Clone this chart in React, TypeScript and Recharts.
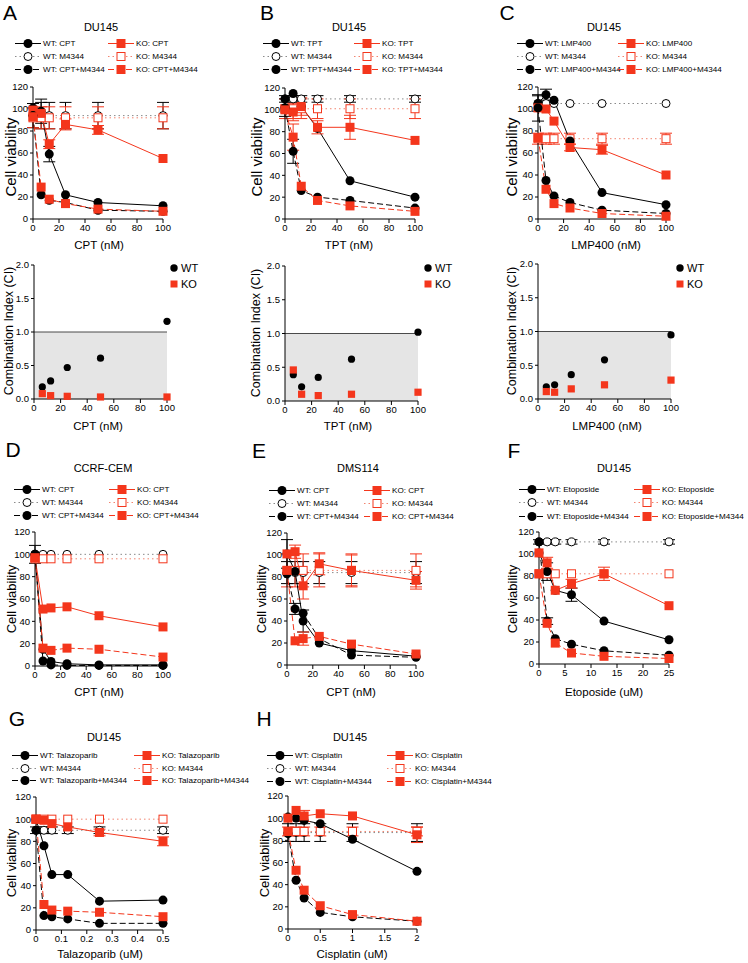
import React from 'react';
import {
  ComposedChart,
  Line,
  ErrorBar,
  XAxis,
  YAxis,
  ScatterChart,
  Scatter,
  ReferenceArea,
  ReferenceLine
} from 'recharts';

const FONT = '"Liberation Sans", Arial, Helvetica, sans-serif';
const BLACK = '#000000';
const RED = '#F4361C';
const GREY_DOTS = '#8a8a8a';
const PINK_DOTS = '#F2846F';
const CI_SHADE = '#e5e5e5';

// doses and ticks
const nmDoses = [0, 6.25, 12.5, 25, 50, 100];
const etoDoses = [0, 1.5625, 3.125, 6.25, 12.5, 25];
const talaDoses = [0, 0.03125, 0.0625, 0.125, 0.25, 0.5];
const cisDoses = [0, 0.125, 0.25, 0.5, 1, 2];
const ciDoses = [6.25, 12.5, 25, 50, 100];

const nmTicks = [0, 20, 40, 60, 80, 100];
const etoTicks = [0, 5, 10, 15, 20, 25];
const talaTicks = [0, 0.1, 0.2, 0.3, 0.4, 0.5];
const cisTicks = [0, 0.5, 1, 1.5, 2];
const viabilityTicks = [0, 20, 40, 60, 80, 100, 120];
const ciTicks = [0, 0.5, 1, 1.5, 2];

// A: DU145, CPT
const aWtDrug = [101, 98, 59, 22, 15, 12];
const aWtM = [94, 94, 94, 94, 94, 94];
const aWtCombo = [94, 22, 17, 15, 8, 7];
const aKoDrug = [99, 96, 68, 86, 81, 55];
const aKoM = [92, 92, 92, 92, 92, 92];
const aKoCombo = [93, 29, 18, 14, 9, 7];
const aWtDrugErr = [0, 11, 7, 0, 0, 0];
const aWtMErr = [11, 12, 12, 12, 12, 12];
const aKoDrugErr = [0, 0, 4, 5, 4, 0];
const aKoMErr = [9, 10, 10, 10, 10, 10];

// B: DU145, TPT
const bWtDrug = [110, 115, 103, 83, 35, 20];
const bWtM = [110, 110, 110, 110, 110, 110];
const bWtCombo = [102, 62, 26, 20, 17, 10];
const bKoDrug = [101, 98, 103, 84, 84, 72];
const bKoM = [101, 101, 101, 101, 101, 101];
const bKoCombo = [100, 75, 30, 17, 12, 7];
const bWtMErr = [3, 3, 3, 3, 3, 3];
const bWtComboErr = [8, 11, 0, 0, 0, 0];
const bKoDrugErr = [0, 8, 8, 6, 11, 0];
const bKoMErr = [9, 9, 9, 9, 9, 9];
const bKoComboErr = [0, 12, 0, 0, 0, 0];

// C: DU145, LMP400
const cWtDrug = [105, 113, 108, 71, 24, 13];
const cWtM = [105, 105, 105, 105, 105, 105];
const cWtCombo = [101, 35, 21, 15, 8, 5];
const cKoDrug = [101, 100, 89, 65, 63, 40];
const cKoM = [73, 73, 73, 73, 73, 73];
const cKoCombo = [74, 27, 14, 10, 5, 2.5];
const cWtDrugErr = [7, 5, 0, 0, 0, 0];
const cWtComboErr = [12, 0, 0, 0, 0, 0];
const cKoDrugErr = [0, 0, 0, 3, 4, 0];
const cKoMErr = [5, 5, 5, 5, 5, 5];

// D: CCRF-CEM, CPT
const dWtDrug = [100, 15, 4, 2, 1, 1];
const dWtM = [100, 100, 100, 100, 100, 100];
const dWtCombo = [100, 4.5, 1, 0.5, 0.5, 0.5];
const dKoDrug = [97, 51, 52, 53, 45, 35];
const dKoM = [96, 96, 96, 96, 96, 96];
const dKoCombo = [97, 16, 14, 16, 15, 8];
const dWtDrugErr = [8, 0, 0, 0, 0, 0];

// E: DMS114, CPT
const eWtDrug = [101, 85, 40, 20, 13, 8];
const eWtM = [84, 84, 84, 84, 84, 84];
const eWtCombo = [83, 51, 47, 24, 9, 7];
const eKoDrug = [101, 103, 72, 92, 86, 77];
const eKoM = [86, 86, 86, 86, 86, 86];
const eKoCombo = [86, 22, 24, 26, 19, 10];
const eWtDrugErr = [13, 0, 10, 0, 0, 0];
const eWtMErr = [10, 10, 10, 10, 10, 10];
const eWtComboErr = [0, 5, 0, 0, 0, 0];
const eKoDrugErr = [0, 6, 12, 10, 14, 8];
const eKoMErr = [15, 15, 15, 15, 15, 15];
const eKoComboErr = [0, 0, 6, 0, 0, 0];

// F: DU145, Etoposide
const fWtDrug = [101, 84, 67, 63, 39, 22];
const fWtM = [111, 111, 111, 111, 111, 111];
const fWtCombo = [111, 39, 23, 18, 12, 8];
const fKoDrug = [101, 92, 67, 73, 82, 53];
const fKoM = [82, 82, 82, 82, 82, 82];
const fKoCombo = [82, 37, 19, 10, 7, 5];
const fWtDrugErr = [0, 8, 0, 6, 0, 0];
const fWtMErr = [2, 2, 2, 2, 2, 2];
const fWtComboErr = [0, 3, 0, 0, 0, 0];
const fKoDrugErr = [0, 5, 0, 4, 6, 0];

// G: DU145, Talazoparib
const gWtDrug = [100, 76, 50, 50, 26, 27];
const gWtM = [90, 90, 90, 90, 90, 90];
const gWtCombo = [90, 13, 12, 10, 6, 6];
const gKoDrug = [100, 99, 96, 93, 88, 80];
const gKoM = [100, 100, 100, 100, 100, 100];
const gKoCombo = [100, 23, 18, 17, 16, 12];
const gWtMErr = [3, 3, 3, 3, 3, 3];
const gKoDrugErr = [0, 0, 0, 0, 3, 4];

// H: DU145, Cisplatin
const hWtDrug = [101, 100, 98, 95, 81, 52];
const hWtM = [87, 87, 87, 87, 87, 87];
const hWtCombo = [86, 44, 28, 15, 11, 7];
const hKoDrug = [100, 107, 102, 104, 102, 85];
const hKoM = [88, 88, 88, 88, 88, 88];
const hKoCombo = [88, 53, 35, 21, 13, 7];
const hWtMErr = [8, 8, 8, 8, 8, 8];
const hKoDrugErr = [0, 0, 5, 0, 0, 7];
const hKoMErr = [4, 4, 4, 4, 4, 4];

// combination index
const ciAWt = [0.18, 0.27, 0.47, 0.61, 1.16];
const ciAKo = [0.08, 0.05, 0.04, 0.03, 0.03];
const ciBWt = [0.39, 0.21, 0.35, 0.62, 1.02];
const ciBKo = [0.46, 0.1, 0.08, 0.1, 0.13];
const ciCWt = [0.18, 0.21, 0.36, 0.58, 0.95];
const ciCKo = [0.11, 0.1, 0.15, 0.21, 0.28];

type Kind = 'circle' | 'openCircle' | 'square' | 'openSquare';

const SERIES: { key: string; kind: Kind; color: string; stroke: string; dash?: string }[] = [
  { key: 'wtM', kind: 'openCircle', color: BLACK, stroke: GREY_DOTS, dash: '1.5 3' },
  { key: 'koM', kind: 'openSquare', color: RED, stroke: PINK_DOTS, dash: '1.5 3' },
  { key: 'wtDrug', kind: 'circle', color: BLACK, stroke: BLACK },
  { key: 'koDrug', kind: 'square', color: RED, stroke: RED },
  { key: 'wtCombo', kind: 'circle', color: BLACK, stroke: BLACK, dash: '6 3' },
  { key: 'koCombo', kind: 'square', color: RED, stroke: RED, dash: '6 3' }
];
const seriesByKey = (k: string) => SERIES.find((s) => s.key === k)!;

function Marker({ kind, cx, cy, color, size = 9 }: { kind: Kind; cx: number; cy: number; color: string; size?: number }) {
  const h = size / 2;
  if (kind === 'circle') return <circle cx={cx} cy={cy} r={h} fill={color} />;
  if (kind === 'openCircle') return <circle cx={cx} cy={cy} r={h - 0.5} fill="#fff" stroke={color} strokeWidth={1} />;
  if (kind === 'square') return <rect x={cx - h} y={cy - h} width={size} height={size} fill={color} />;
  return <rect x={cx - h + 0.5} y={cy - h + 0.5} width={size - 1} height={size - 1} fill="#fff" stroke={color} strokeWidth={1} />;
}

interface Panel {
  letter: string;
  letterPos: [number, number];
  title: string;
  titlePos: [number, number];
  drug: string;
  xLabel: string;
  xLabelPos: [number, number];
  yLabelPos: [number, number];
  yLabelSize: number;
  doses: number[];
  xMax: number;
  xTicks: number[];
  plot: { x: number; y: number; w: number; h: number };
  legendLeft: number;
  legendRight: number;
  legendRows: number[];
  values: Record<string, number[]>;
  errors: Record<string, number[]>;
}

const PANELS: Panel[] = [
  {
    letter: 'A', letterPos: [10, 12], title: 'DU145', titlePos: [101, 27], drug: 'CPT',
    xLabel: 'CPT (nM)', xLabelPos: [99, 246], yLabelPos: [10, 157], yLabelSize: 15,
    doses: nmDoses, xMax: 100, xTicks: nmTicks, plot: { x: 33, y: 87, w: 130, h: 132 },
    legendLeft: 43, legendRight: 136, legendRows: [43, 56, 69],
    values: { wtDrug: aWtDrug, wtM: aWtM, wtCombo: aWtCombo, koDrug: aKoDrug, koM: aKoM, koCombo: aKoCombo },
    errors: { wtDrug: aWtDrugErr, wtM: aWtMErr, koDrug: aKoDrugErr, koM: aKoMErr }
  },
  {
    letter: 'B', letterPos: [267, 12], title: 'DU145', titlePos: [349, 27], drug: 'TPT',
    xLabel: 'TPT (nM)', xLabelPos: [349, 246], yLabelPos: [256, 157], yLabelSize: 15,
    doses: nmDoses, xMax: 100, xTicks: nmTicks, plot: { x: 285, y: 88, w: 130, h: 131 },
    legendLeft: 291, legendRight: 382, legendRows: [43, 56, 69],
    values: { wtDrug: bWtDrug, wtM: bWtM, wtCombo: bWtCombo, koDrug: bKoDrug, koM: bKoM, koCombo: bKoCombo },
    errors: { wtM: bWtMErr, wtCombo: bWtComboErr, koDrug: bKoDrugErr, koM: bKoMErr, koCombo: bKoComboErr }
  },
  {
    letter: 'C', letterPos: [507, 12], title: 'DU145', titlePos: [604, 27], drug: 'LMP400',
    xLabel: 'LMP400 (nM)', xLabelPos: [606, 246], yLabelPos: [511, 157], yLabelSize: 15,
    doses: nmDoses, xMax: 100, xTicks: nmTicks, plot: { x: 538, y: 87, w: 128, h: 132 },
    legendLeft: 545, legendRight: 646, legendRows: [43, 56, 69],
    values: { wtDrug: cWtDrug, wtM: cWtM, wtCombo: cWtCombo, koDrug: cKoDrug, koM: cKoM, koCombo: cKoCombo },
    errors: { wtDrug: cWtDrugErr, wtCombo: cWtComboErr, koDrug: cKoDrugErr, koM: cKoMErr }
  },
  {
    letter: 'D', letterPos: [13, 449], title: 'CCRF-CEM', titlePos: [103, 468], drug: 'CPT',
    xLabel: 'CPT (nM)', xLabelPos: [99, 693], yLabelPos: [11, 599], yLabelSize: 13,
    doses: nmDoses, xMax: 100, xTicks: nmTicks, plot: { x: 35, y: 532, w: 128, h: 134 },
    legendLeft: 42, legendRight: 137, legendRows: [489, 502, 515],
    values: { wtDrug: dWtDrug, wtM: dWtM, wtCombo: dWtCombo, koDrug: dKoDrug, koM: dKoM, koCombo: dKoCombo },
    errors: { wtDrug: dWtDrugErr }
  },
  {
    letter: 'E', letterPos: [259, 450], title: 'DMS114', titlePos: [358, 468], drug: 'CPT',
    xLabel: 'CPT (nM)', xLabelPos: [351, 693], yLabelPos: [261, 599], yLabelSize: 13,
    doses: nmDoses, xMax: 100, xTicks: nmTicks, plot: { x: 287, y: 533, w: 129, h: 132 },
    legendLeft: 297, legendRight: 392, legendRows: [490, 503, 516],
    values: { wtDrug: eWtDrug, wtM: eWtM, wtCombo: eWtCombo, koDrug: eKoDrug, koM: eKoM, koCombo: eKoCombo },
    errors: { wtDrug: eWtDrugErr, wtM: eWtMErr, wtCombo: eWtComboErr, koDrug: eKoDrugErr, koM: eKoMErr, koCombo: eKoComboErr }
  },
  {
    letter: 'F', letterPos: [514, 450], title: 'DU145', titlePos: [614, 468], drug: 'Etoposide',
    xLabel: 'Etoposide (uM)', xLabelPos: [604, 693], yLabelPos: [512, 599], yLabelSize: 13,
    doses: etoDoses, xMax: 25, xTicks: etoTicks, plot: { x: 539, y: 532, w: 130, h: 132 },
    legendLeft: 547, legendRight: 662, legendRows: [489, 502, 516],
    values: { wtDrug: fWtDrug, wtM: fWtM, wtCombo: fWtCombo, koDrug: fKoDrug, koM: fKoM, koCombo: fKoCombo },
    errors: { wtDrug: fWtDrugErr, wtM: fWtMErr, wtCombo: fWtComboErr, koDrug: fKoDrugErr }
  },
  {
    letter: 'G', letterPos: [17, 718], title: 'DU145', titlePos: [104, 737], drug: 'Talazoparib',
    xLabel: 'Talazoparib (uM)', xLabelPos: [100, 955], yLabelPos: [11, 863], yLabelSize: 13,
    doses: talaDoses, xMax: 0.5, xTicks: talaTicks, plot: { x: 36, y: 797, w: 127, h: 133 },
    legendLeft: 40, legendRight: 162, legendRows: [755, 768, 780],
    values: { wtDrug: gWtDrug, wtM: gWtM, wtCombo: gWtCombo, koDrug: gKoDrug, koM: gKoM, koCombo: gKoCombo },
    errors: { wtM: gWtMErr, koDrug: gKoDrugErr }
  },
  {
    letter: 'H', letterPos: [264, 718], title: 'DU145', titlePos: [350, 737], drug: 'Cisplatin',
    xLabel: 'Cisplatin (uM)', xLabelPos: [352, 955], yLabelPos: [264, 863], yLabelSize: 13,
    doses: cisDoses, xMax: 2, xTicks: cisTicks, plot: { x: 288, y: 796, w: 129, h: 133 },
    legendLeft: 295, legendRight: 415, legendRows: [755, 768, 781],
    values: { wtDrug: hWtDrug, wtM: hWtM, wtCombo: hWtCombo, koDrug: hKoDrug, koM: hKoM, koCombo: hKoCombo },
    errors: { wtM: hWtMErr, koDrug: hKoDrugErr, koM: hKoMErr }
  }
];

interface CIPanel {
  xLabel: string;
  xLabelPos: [number, number];
  yLabelPos: [number, number];
  plot: { x: number; y: number; w: number; h: number };
  legendX: number;
  wt: number[];
  ko: number[];
}

const CI_PANELS: CIPanel[] = [
  { xLabel: 'CPT (nM)', xLabelPos: [98, 427], yLabelPos: [9, 331], plot: { x: 34, y: 265, w: 133, h: 134 }, legendX: 174, wt: ciAWt, ko: ciAKo },
  { xLabel: 'TPT (nM)', xLabelPos: [348, 427], yLabelPos: [256, 333], plot: { x: 285, y: 266, w: 133, h: 135 }, legendX: 428, wt: ciBWt, ko: ciBKo },
  { xLabel: 'LMP400 (nM)', xLabelPos: [607, 427], yLabelPos: [512, 331], plot: { x: 538, y: 264, w: 133, h: 135 }, legendX: 680, wt: ciCWt, ko: ciCKo }
];

const YW = 32;
const MT = 8;
const MR = 12;
const XH = 22;
const TICK = { fontSize: 9.5, fill: '#000', fontFamily: FONT };

function Label({ x, y, size, children, rotate = false, weight = 400 }: any) {
  return (
    <div
      style={{
        position: 'absolute',
        left: x,
        top: y,
        fontSize: size,
        lineHeight: 1,
        fontWeight: weight,
        whiteSpace: 'nowrap',
        transform: rotate ? 'translate(-50%, -50%) rotate(-90deg)' : 'translate(-50%, -50%)'
      }}
    >
      {children}
    </div>
  );
}

function LegendItem({ textX, y, seriesKey, text }: { textX: number; y: number; seriesKey: string; text: string }) {
  const s = seriesByKey(seriesKey);
  return (
    <div style={{ position: 'absolute', left: textX - 28, top: y - 5.5, height: 11, display: 'flex', alignItems: 'center', whiteSpace: 'nowrap', fontSize: 8.1 }}>
      <svg width={26} height={11} style={{ display: 'block', marginRight: 2 }}>
        <line x1={0} y1={5.5} x2={26} y2={5.5} stroke={s.stroke} strokeWidth={1} strokeDasharray={s.dash} />
        <Marker kind={s.kind} cx={13} cy={5.5} color={s.color} />
      </svg>
      <span>{text}</span>
    </div>
  );
}

function ViabilityPanel({ p }: { p: Panel }) {
  const rows = p.doses.map((x, i) => {
    const row: Record<string, number> = { x };
    SERIES.forEach((s) => {
      row[s.key] = p.values[s.key][i];
      row[`${s.key}Err`] = p.errors[s.key] ? p.errors[s.key][i] : 0;
    });
    return row;
  });
  const W = YW + p.plot.w + MR;
  const H = MT + p.plot.h + XH;
  const legend = [
    { key: 'wtDrug', text: `WT: ${p.drug}`, col: p.legendLeft, row: 0 },
    { key: 'wtM', text: 'WT: M4344', col: p.legendLeft, row: 1 },
    { key: 'wtCombo', text: `WT: ${p.drug}+M4344`, col: p.legendLeft, row: 2 },
    { key: 'koDrug', text: `KO: ${p.drug}`, col: p.legendRight, row: 0 },
    { key: 'koM', text: 'KO: M4344', col: p.legendRight, row: 1 },
    { key: 'koCombo', text: `KO: ${p.drug}+M4344`, col: p.legendRight, row: 2 }
  ];

  return (
    <>
      <Label x={p.letterPos[0]} y={p.letterPos[1]} size={21}>{p.letter}</Label>
      <Label x={p.titlePos[0]} y={p.titlePos[1]} size={11}>{p.title}</Label>
      {legend.map((l) => (
        <LegendItem key={l.key} textX={l.col} y={p.legendRows[l.row]} seriesKey={l.key} text={l.text} />
      ))}
      <Label x={p.yLabelPos[0]} y={p.yLabelPos[1]} size={p.yLabelSize} rotate>Cell viability</Label>
      <Label x={p.xLabelPos[0]} y={p.xLabelPos[1]} size={11.5}>{p.xLabel}</Label>
      <div style={{ position: 'absolute', left: p.plot.x - YW, top: p.plot.y - MT, width: W, height: H }}>
        <ComposedChart width={W} height={H} data={rows} margin={{ top: MT, right: MR, bottom: 0, left: 0 }}>
          <XAxis
            type="number"
            dataKey="x"
            domain={[0, p.xMax]}
            ticks={p.xTicks}
            interval={0}
            height={XH}
            tick={TICK}
            tickSize={4}
            tickMargin={1}
            axisLine={{ stroke: BLACK }}
            tickLine={{ stroke: BLACK }}
          />
          <YAxis
            type="number"
            domain={[0, 120]}
            ticks={viabilityTicks}
            interval={0}
            width={YW}
            tick={TICK}
            tickSize={3}
            tickMargin={2}
            axisLine={{ stroke: BLACK }}
            tickLine={{ stroke: BLACK }}
          />
          {SERIES.map((s) => (
            <Line
              key={s.key}
              dataKey={s.key}
              type="linear"
              stroke={s.stroke}
              strokeWidth={1}
              strokeDasharray={s.dash}
              dot={(d: any) => <Marker key={`${s.key}-${d.index}`} kind={s.kind} cx={d.cx} cy={d.cy} color={s.color} />}
              activeDot={false}
              isAnimationActive={false}
            >
              <ErrorBar dataKey={`${s.key}Err`} direction="y" width={6} stroke={s.color} strokeWidth={1} />
            </Line>
          ))}
        </ComposedChart>
      </div>
    </>
  );
}

function CombinationPanel({ p }: { p: CIPanel }) {
  const wtPts = ciDoses.map((x, i) => ({ x, y: p.wt[i] }));
  const koPts = ciDoses.map((x, i) => ({ x, y: p.ko[i] }));
  const W = YW + p.plot.w + MR;
  const H = MT + p.plot.h + XH;

  return (
    <>
      <Label x={p.yLabelPos[0]} y={p.yLabelPos[1]} size={12.5} rotate>Combination Index (CI)</Label>
      <Label x={p.xLabelPos[0]} y={p.xLabelPos[1]} size={11.5}>{p.xLabel}</Label>
      <div style={{ position: 'absolute', left: p.legendX - 4, top: 262, display: 'flex', alignItems: 'center', fontSize: 11 }}>
        <svg width={8} height={8} style={{ display: 'block', marginRight: 3 }}>
          <circle cx={4} cy={4} r={3.7} fill={BLACK} />
        </svg>
        WT
      </div>
      <div style={{ position: 'absolute', left: p.legendX - 4, top: 278, display: 'flex', alignItems: 'center', fontSize: 11 }}>
        <svg width={8} height={8} style={{ display: 'block', marginRight: 3 }}>
          <rect x={0.5} y={0.5} width={7} height={7} fill={RED} />
        </svg>
        KO
      </div>
      <div style={{ position: 'absolute', left: p.plot.x - YW, top: p.plot.y - MT, width: W, height: H }}>
        <ScatterChart width={W} height={H} margin={{ top: MT, right: MR, bottom: 0, left: 0 }}>
          <ReferenceArea x1={0} x2={100} y1={0} y2={1} fill={CI_SHADE} fillOpacity={1} stroke="none" />
          <ReferenceLine y={1} stroke="#4a4a4a" strokeWidth={1} />
          <XAxis
            type="number"
            dataKey="x"
            domain={[0, 100]}
            ticks={nmTicks}
            interval={0}
            height={XH}
            tick={TICK}
            tickSize={4}
            tickMargin={1}
            axisLine={{ stroke: BLACK }}
            tickLine={{ stroke: BLACK }}
          />
          <YAxis
            type="number"
            dataKey="y"
            domain={[0, 2]}
            ticks={ciTicks}
            interval={0}
            width={YW}
            tick={TICK}
            tickSize={3}
            tickMargin={2}
            tickFormatter={(v: number) => v.toFixed(1)}
            axisLine={{ stroke: BLACK }}
            tickLine={{ stroke: BLACK }}
          />
          <Scatter
            data={wtPts}
            isAnimationActive={false}
            shape={(d: any) => <circle cx={d.cx} cy={d.cy} r={3.6} fill={BLACK} />}
          />
          <Scatter
            data={koPts}
            isAnimationActive={false}
            shape={(d: any) => <rect x={d.cx - 3.6} y={d.cy - 3.6} width={7.2} height={7.2} fill={RED} />}
          />
        </ScatterChart>
      </div>
    </>
  );
}

export default function App() {
  return (
    <div
      style={{
        position: 'absolute',
        left: 0,
        top: 0,
        width: 748,
        height: 963,
        background: '#fff',
        fontFamily: FONT,
        color: '#000',
        overflow: 'hidden'
      }}
    >
      {PANELS.map((p) => (
        <ViabilityPanel key={p.letter} p={p} />
      ))}
      {CI_PANELS.map((p) => (
        <CombinationPanel key={p.xLabel} p={p} />
      ))}
    </div>
  );
}
